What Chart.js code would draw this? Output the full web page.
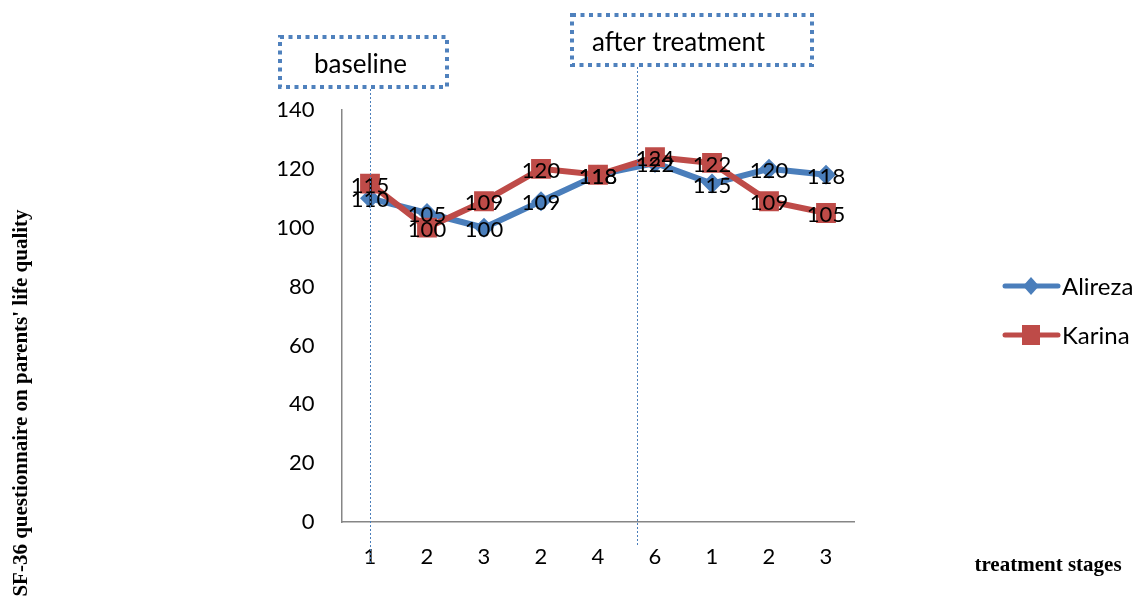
<!DOCTYPE html>
<html>
<head>
<meta charset="utf-8">
<script src="https://cdn.jsdelivr.net/npm/chart.js@4"></script>
<style>
    html, body { margin: 0; padding: 0; background: #fff; }
    #wrap { width: 1138px; height: 603px; position: relative; }
</style>
</head>
<body>
<div id="wrap"><canvas id="qolChart"></canvas></div>
<script>
const stages = ['1', '2', '3', '2', '4', '6', '1', '2', '3'];
const alireza = [110, 105, 100, 109, 118, 122, 115, 120, 118];
const karina = [115, 100, 109, 120, 118, 124, 122, 109, 105];
const yTicks = [0, 20, 40, 60, 80, 100, 120, 140];

const blue = '#4A7EBB';
const red = '#BE4B48';
const labelFont = 'Lato, "Open Sans", sans-serif';

// boxes + dotted guide lines, data labels, legend, axis titles
const extras = {
    id: 'extras',
    afterDatasetsDraw(chart) {
        const ctx = chart.ctx;
        const x = chart.scales.x;
        const step = x.getPixelForValue(1) - x.getPixelForValue(0);

        // value labels centred on the points
        ctx.save();
        ctx.font = '22px ' + labelFont;
        ctx.fillStyle = '#000';
        ctx.textAlign = 'center';
        ctx.textBaseline = 'middle';
        chart.data.datasets.forEach((ds, i) => {
            chart.getDatasetMeta(i).data.forEach((pt, j) => {
                ctx.fillText(String(ds.data[j]), pt.x, pt.y + 2);
            });
        });
        ctx.restore();

        // guide lines
        const baseX = Math.round(x.getPixelForValue(0)) + 0.5;
        const afterX = Math.round(x.getPixelForValue(4) + 0.68 * step) + 0.5;
        ctx.save();
        ctx.strokeStyle = blue;
        ctx.lineWidth = 1;
        ctx.setLineDash([2, 2]);
        ctx.beginPath();
        ctx.moveTo(baseX, 89);
        ctx.lineTo(baseX, 564);
        ctx.moveTo(afterX, 67);
        ctx.lineTo(afterX, 545);
        ctx.stroke();
        ctx.restore();

        // dotted boxes
        const box = (l, t, r, b, text, textX) => {
            ctx.save();
            ctx.fillStyle = '#fff';
            ctx.fillRect(l, t, r - l, b - t);
            ctx.strokeStyle = '#4F81BD';
            ctx.lineWidth = 4;
            ctx.setLineDash([4, 4.5]);
            ctx.strokeRect(l, t, r - l, b - t);
            ctx.fillStyle = '#000';
            ctx.font = '26px ' + labelFont;
            ctx.textAlign = 'left';
            ctx.textBaseline = 'middle';
            ctx.fillText(text, textX, (t + b) / 2 + 3);
            ctx.restore();
        };
        box(280, 37, 447, 87, 'baseline', 314);
        box(572, 15, 812, 65, 'after treatment', 592);

        // legend
        ctx.save();
        ctx.font = '24px ' + labelFont;
        ctx.textBaseline = 'middle';
        ctx.textAlign = 'left';
        const items = [
            { name: 'Alireza', color: blue, y: 286, shape: 'diamond' },
            { name: 'Karina', color: red, y: 335, shape: 'square' }
        ];
        items.forEach(it => {
            ctx.strokeStyle = it.color;
            ctx.fillStyle = it.color;
            ctx.lineWidth = 5;
            ctx.lineCap = 'round';
            ctx.beginPath();
            ctx.moveTo(1005, it.y);
            ctx.lineTo(1058, it.y);
            ctx.stroke();
            ctx.beginPath();
            if (it.shape === 'diamond') {
                ctx.moveTo(1031, it.y - 9);
                ctx.lineTo(1039, it.y);
                ctx.lineTo(1031, it.y + 9);
                ctx.lineTo(1023, it.y);
                ctx.closePath();
                ctx.fill();
            } else {
                ctx.fillRect(1022, it.y - 10, 18, 20);
            }
            ctx.fillStyle = '#000';
            ctx.fillText(it.name, 1062, it.y + 1);
        });
        ctx.restore();

        // axis titles
        ctx.save();
        ctx.fillStyle = '#000';
        ctx.font = 'bold 21px "Liberation Serif", "Times New Roman", serif';
        ctx.textAlign = 'center';
        ctx.textBaseline = 'middle';
        ctx.fillText('treatment stages', 1048, 566);
        ctx.translate(22, 403);
        ctx.rotate(-Math.PI / 2);
        ctx.fillText("SF-36 questionnaire on parents' life quality", 0, 0);
        ctx.restore();
    }
};

new Chart(document.getElementById('qolChart'), {
    type: 'line',
    data: {
        labels: stages,
        datasets: [
            {
                label: 'Alireza',
                data: alireza,
                borderColor: blue,
                backgroundColor: blue,
                borderWidth: 6,
                pointStyle: 'rectRot',
                pointRadius: 10,
                pointBorderWidth: 0,
                tension: 0,
                order: 1
            },
            {
                label: 'Karina',
                data: karina,
                borderColor: red,
                backgroundColor: red,
                borderWidth: 6,
                pointStyle: 'rect',
                pointRadius: 14,
                pointBorderWidth: 0,
                tension: 0,
                order: 0
            }
        ]
    },
    options: {
        responsive: true,
        maintainAspectRatio: false,
        animation: false,
        layout: {
            padding: { left: 261.5, right: 283.5, top: 110, bottom: 31 }
        },
        plugins: {
            legend: { display: false },
            tooltip: { enabled: false }
        },
        scales: {
            x: {
                offset: true,
                grid: { display: false, drawTicks: false },
                border: { display: true, color: '#868686', width: 1.5 },
                ticks: {
                    color: '#000',
                    font: { family: labelFont, size: 22 },
                    padding: 22,
                    maxRotation: 0
                },
                afterFit: scale => { scale.height = 50; }
            },
            y: {
                min: 0,
                max: 140,
                grid: { display: false, drawTicks: false },
                border: { display: true, color: '#868686', width: 1.5 },
                afterBuildTicks: scale => {
                    scale.ticks = yTicks.map(v => ({ value: v }));
                },
                ticks: {
                    color: '#000',
                    font: { family: labelFont, size: 22 },
                    padding: 27
                },
                afterFit: scale => { scale.width = 80; }
            }
        }
    },
    plugins: [extras]
});
</script>
</body>
</html>
